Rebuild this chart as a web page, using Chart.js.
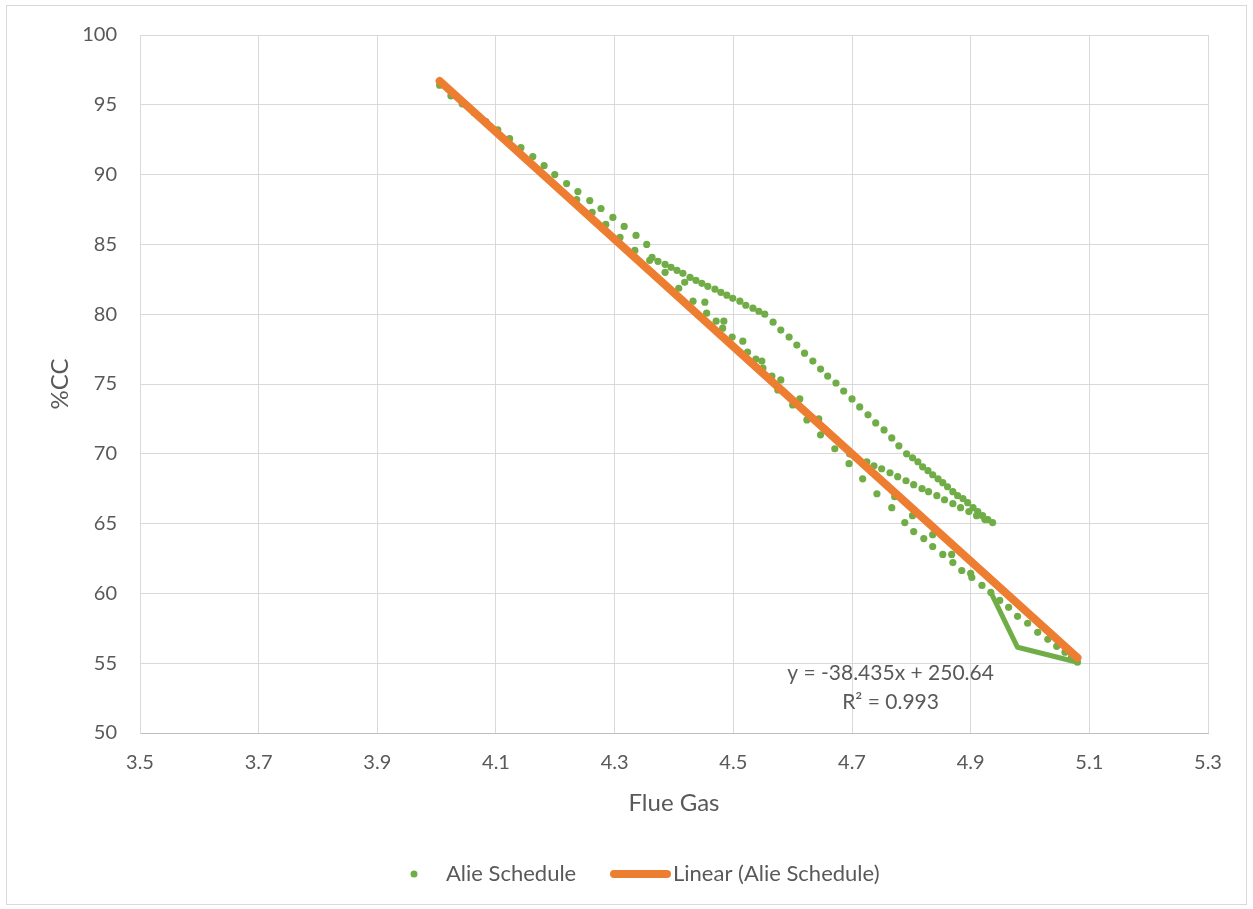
<!DOCTYPE html>
<html>
<head>
<meta charset="utf-8">
<script src="https://cdn.jsdelivr.net/npm/chart.js@4.4.1/dist/chart.umd.min.js"></script>
<style>
  html, body { margin: 0; padding: 0; background: #ffffff; }
  #wrap { width: 1253px; height: 909px; }
</style>
</head>
<body>
<div id="wrap"><canvas id="chart" width="1253" height="909"></canvas></div>
<script>
// Alie Schedule readings: flue gas vs %CC
const upperX = [4.005,4.024,4.043,4.063,4.083,4.103,4.123,4.142,4.162,4.181,4.199,4.219,4.238,4.258,4.277,4.297,4.316,4.336,4.354,4.363,4.373,4.385,4.395,4.405,4.415,4.427,4.437,4.447,4.457,4.469,4.479,4.489,4.499,4.511,4.521,4.533,4.543,4.553,4.567,4.580,4.594,4.607,4.620,4.634,4.647,4.659,4.673,4.686,4.700,4.713,4.727,4.740,4.754,4.767,4.779,4.792,4.802,4.811,4.819,4.828,4.836,4.845,4.853,4.861,4.870,4.878,4.887,4.895,4.904,4.912,4.920,4.929,4.937];
const upperY = [96.40,95.64,95.07,94.43,93.79,93.21,92.57,91.93,91.29,90.64,90.00,89.36,88.79,88.14,87.57,86.93,86.29,85.64,85.00,84.07,83.79,83.57,83.36,83.14,82.93,82.64,82.43,82.21,82.00,81.79,81.57,81.36,81.14,80.93,80.64,80.43,80.21,80.00,79.43,78.86,78.36,77.79,77.21,76.64,76.07,75.57,75.07,74.50,73.93,73.36,72.79,72.21,71.71,71.14,70.57,70.00,69.71,69.43,69.07,68.79,68.50,68.21,67.93,67.64,67.29,67.00,66.79,66.50,66.14,65.86,65.57,65.29,65.07];

const middleX = [4.696,4.725,4.737,4.750,4.764,4.777,4.791,4.804,4.818,4.829,4.843,4.856,4.870,4.883,4.897,4.910,4.924];
const middleY = [70.00,69.43,69.14,68.93,68.64,68.36,68.07,67.79,67.50,67.29,67.00,66.71,66.43,66.14,65.86,65.57,65.29];

const lowerX = [4.236,4.262,4.285,4.309,4.334,4.359,4.385,4.408,4.418,4.432,4.452,4.455,4.471,4.484,4.482,4.498,4.516,4.524,4.538,4.548,4.550,4.565,4.580,4.575,4.600,4.612,4.624,4.644,4.647,4.671,4.695,4.718,4.742,4.767,4.772,4.789,4.802,4.804,4.821,4.836,4.836,4.853,4.868,4.870,4.885,4.900,4.902,4.919,4.934,4.949,4.964,4.979,4.996,5.013,5.030,5.045,5.059,5.070,5.080];
const lowerY = [88.21,87.29,86.43,85.50,84.57,83.86,83.00,81.86,82.29,80.93,80.86,80.07,79.50,79.50,79.00,78.36,78.07,77.29,76.79,76.64,76.14,75.57,75.29,74.57,73.50,73.93,72.43,72.50,71.36,70.36,69.29,68.21,67.14,66.14,66.93,65.07,65.57,64.43,63.93,64.21,63.36,62.79,62.79,62.21,61.64,61.43,61.14,60.57,60.07,59.50,59.00,58.36,57.86,57.21,56.71,56.21,55.79,55.43,55.07];

// short connected stretch at the tail of the schedule
const linkX = [4.934, 4.979, 5.080];
const linkY = [60.07, 56.14, 55.07];

// linear trend fitted to the schedule
const trendSlope = -38.435;
const trendIntercept = 250.64;
const trendR2 = 0.993;

const xTickValues = [3.5, 3.7, 3.9, 4.1, 4.3, 4.5, 4.7, 4.9, 5.1, 5.3];
const xTickLabels = ['3.5', '3.7', '3.9', '4.1', '4.3', '4.5', '4.7', '4.9', '5.1', '5.3'];
const yTickValues = [50, 55, 60, 65, 70, 75, 80, 85, 90, 95, 100];
const yTickLabels = ['50', '55', '60', '65', '70', '75', '80', '85', '90', '95', '100'];

const seriesName = 'Alie Schedule';
const trendName = 'Linear (Alie Schedule)';

const GREEN = '#70AD47';
const ORANGE = '#ED7D31';
const TEXT = '#595959';
const GRID = '#D9D9D9';
const FONT = 'Lato, "Open Sans", sans-serif';

function pairs(xs, ys) { return xs.map((x, i) => ({ x: x, y: ys[i] })); }

const allX = upperX.concat(middleX, lowerX);
const allY = upperY.concat(middleY, lowerY);
const xMin = Math.min.apply(null, allX);
const xMax = Math.max.apply(null, allX);
const trendPoints = [xMin, xMax].map(x => ({ x: x, y: trendSlope * x + trendIntercept }));

function fmt(v, d) { return (v < 0 ? '-' : '') + Math.abs(v).toFixed(d); }
const eqText = 'y = ' + fmt(trendSlope, 3) + 'x + ' + trendIntercept.toFixed(2);
const r2Text = 'R\u00B2 = ' + trendR2.toFixed(3);

// frame around the whole chart
const framePlugin = {
  id: 'frame',
  beforeDraw(chart) {
    const ctx = chart.ctx;
    ctx.save();
    ctx.fillStyle = '#ffffff';
    ctx.fillRect(0, 0, chart.width, chart.height);
    ctx.strokeStyle = GRID;
    ctx.lineWidth = 1;
    ctx.strokeRect(6.5, 5.5, 1240, 899);
    ctx.restore();
  }
};

// trend equation and legend
const annotatePlugin = {
  id: 'annotate',
  afterDraw(chart) {
    const ctx = chart.ctx;
    const xs = chart.scales.x, ys = chart.scales.y;
    ctx.save();
    ctx.fillStyle = TEXT;
    ctx.font = '21px ' + FONT;
    ctx.textAlign = 'center';
    ctx.textBaseline = 'middle';
    const cx = xs.getPixelForValue(4.765);
    ctx.fillText(eqText, cx, ys.getPixelForValue(50) - 60);
    ctx.fillText(r2Text, cx, ys.getPixelForValue(50) - 31);

    // legend
    const ly = 874;
    ctx.font = '22px ' + FONT;
    ctx.fillStyle = GREEN;
    ctx.beginPath();
    ctx.arc(414, ly, 3.5, 0, Math.PI * 2);
    ctx.fill();
    ctx.fillStyle = TEXT;
    ctx.textAlign = 'left';
    ctx.fillText(seriesName, 446, ly);
    ctx.strokeStyle = ORANGE;
    ctx.lineWidth = 8;
    ctx.lineCap = 'round';
    ctx.beginPath();
    ctx.moveTo(614, ly);
    ctx.lineTo(667, ly);
    ctx.stroke();
    ctx.fillText(trendName, 673, ly);
    ctx.restore();
  }
};

new Chart(document.getElementById('chart'), {
  type: 'scatter',
  data: {
    datasets: [
      {
        label: trendName,
        type: 'line',
        data: trendPoints,
        borderColor: ORANGE,
        borderWidth: 8,
        borderCapStyle: 'round',
        pointRadius: 0,
        showLine: true,
        fill: false,
        order: 0
      },
      {
        label: seriesName,
        data: pairs(allX, allY),
        backgroundColor: GREEN,
        borderWidth: 0,
        pointRadius: 3.6,
        pointHoverRadius: 3.6,
        showLine: false,
        order: 1
      },
      {
        label: seriesName,
        type: 'line',
        data: pairs(linkX, linkY),
        borderColor: GREEN,
        borderWidth: 5,
        borderJoinStyle: 'round',
        borderCapStyle: 'round',
        pointRadius: 0,
        showLine: true,
        fill: false,
        order: 2
      }
    ]
  },
  options: {
    responsive: false,
    animation: false,
    devicePixelRatio: 1,
    layout: { padding: { left: 46, top: 34, right: 45, bottom: 91 } },
    plugins: {
      legend: { display: false },
      tooltip: { enabled: false },
      title: { display: false }
    },
    scales: {
      x: {
        type: 'linear',
        min: 3.5,
        max: 5.3,
        afterBuildTicks(scale) { scale.ticks = xTickValues.map(v => ({ value: v })); },
        afterFit(scale) { scale.height = 85; },
        ticks: {
          autoSkip: false,
          maxRotation: 0,
          padding: 18,
          color: TEXT,
          font: { family: FONT, size: 20 },
          callback(value, index) { return xTickLabels[index]; }
        },
        grid: { color: GRID, lineWidth: 1, drawTicks: false },
        border: { color: '#BFBFBF', width: 1 },
        title: {
          display: true,
          text: 'Flue Gas',
          color: TEXT,
          font: { family: FONT, size: 24 },
          padding: { top: 0, bottom: 0 }
        }
      },
      y: {
        type: 'linear',
        min: 50,
        max: 100,
        afterBuildTicks(scale) { scale.ticks = yTickValues.map(v => ({ value: v })); },
        afterFit(scale) { scale.width = 94; },
        ticks: {
          autoSkip: false,
          padding: 23,
          color: TEXT,
          font: { family: FONT, size: 20 },
          callback(value, index) { return yTickLabels[index]; }
        },
        grid: { color: GRID, lineWidth: 1, drawTicks: false },
        border: { color: GRID, width: 1 },
        title: {
          display: true,
          text: '%CC',
          color: TEXT,
          font: { family: FONT, size: 24 },
          padding: { top: 0, bottom: 0 }
        }
      }
    }
  },
  plugins: [framePlugin, annotatePlugin]
});
</script>
</body>
</html>
